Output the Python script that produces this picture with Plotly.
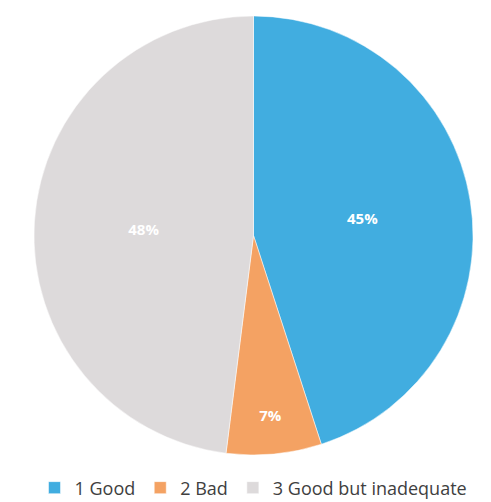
import plotly.graph_objects as go

labels = ["1 Good", "2 Bad", "3 Good but inadequate"]
values = [45, 7, 48]
colors = ["#41ade0", "#f4a263", "#dddadb"]

fig = go.Figure(go.Pie(
    labels=labels,
    values=values,
    sort=False,
    direction="clockwise",
    rotation=0,
    marker=dict(colors=colors, line=dict(color="#ffffff", width=0.5)),
    texttemplate="%{percent:.0%}",
    textposition="inside",
    insidetextorientation="horizontal",
    textfont=dict(family="Open Sans", size=15, color="#ffffff", weight="bold"),
    domain=dict(x=[0, 1], y=[0.0, 1.0]),
    hole=0,
))

fig.update_layout(
    width=491, height=502,
    margin=dict(l=0, r=0, t=8, b=55, autoexpand=False),
    paper_bgcolor="#ffffff",
    plot_bgcolor="#ffffff",
    showlegend=True,
    legend=dict(orientation="h", x=0.5, xanchor="center", y=-0.075, yanchor="middle",
                font=dict(family="Open Sans", size=18, color="#404040"),
                itemwidth=30),
    uniformtext=dict(minsize=15, mode="show"),
)

fig.write_html("out.html")
